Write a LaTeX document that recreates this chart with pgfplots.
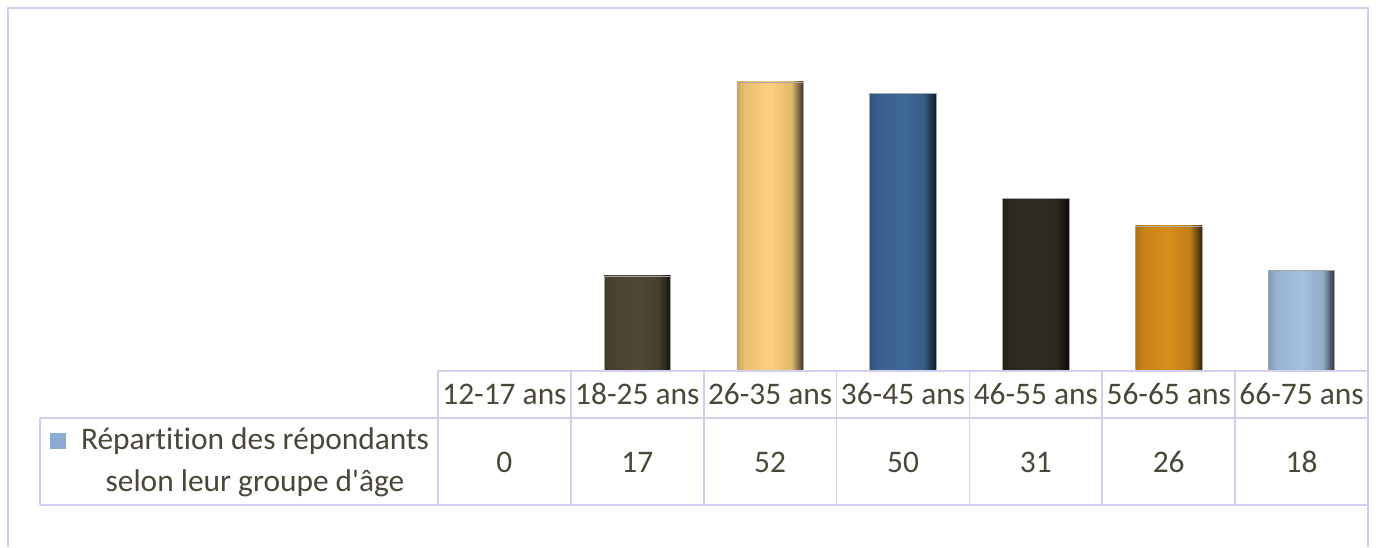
\documentclass[border=0pt]{standalone}
\usepackage{pgfplots}
\usepackage{pgfplotstable}
\pgfplotsset{compat=1.18}
\usepackage{fontspec}
\setmainfont{Carlito}[Ligatures={NoCommon}]

\definecolor{txt}{RGB}{74,70,56}
\definecolor{frame}{RGB}{210,206,240}
\definecolor{legsq}{RGB}{141,171,210}
\definecolor{c1}{RGB}{80,72,52}
\definecolor{c2}{RGB}{254,208,125}
\definecolor{c3}{RGB}{62,104,152}
\definecolor{c4}{RGB}{48,44,34}
\definecolor{c5}{RGB}{216,142,26}
\definecolor{c6}{RGB}{163,194,226}

% bevel-ish horizontal shading, path maps to 25bp..75bp
\newcommand\bevel[2]{%
  \pgfdeclarehorizontalshading{#1}{100bp}{%
    color(0bp)=(#2!80!black); color(25bp)=(#2!80!black);
    color(31bp)=(#2!92!black); color(50bp)=(#2);
    color(66bp)=(#2!88!black); color(75bp)=(#2!25!black);
    color(100bp)=(#2!25!black)}}
\bevel{bev1}{c1}\bevel{bev2}{c2}\bevel{bev3}{c3}
\bevel{bev4}{c4}\bevel{bev5}{c5}\bevel{bev6}{c6}

\pgfplotstableread[col sep=comma]{
x,label,v
0,12-17 ans,0
1,18-25 ans,17
2,26-35 ans,52
3,36-45 ans,50
4,46-55 ans,31
5,56-65 ans,26
6,66-75 ans,18
}\data

\pgfplotsset{bevbar/.style={ybar, bar shift=0pt, bar width=0.5,
    draw=black!35, line width=0.3pt, shading=#1}}

\begin{document}
\begin{tikzpicture}[font=\fontsize{15.7}{21}\selectfont]
\useasboundingbox (0,0) rectangle (688pt,-273.5pt);
\begin{axis}[at={(219pt,-185pt)}, anchor=south west,
    scale only axis, width=465pt, height=166.2pt,
    xmin=-0.5, xmax=6.5, ymin=0, ymax=60,
    hide axis, clip=false]
\addplot[bevbar=bev1, restrict expr to domain={\coordindex}{1:1}] table[x=x,y=v]{\data};
\addplot[bevbar=bev2, restrict expr to domain={\coordindex}{2:2}] table[x=x,y=v]{\data};
\addplot[bevbar=bev3, restrict expr to domain={\coordindex}{3:3}] table[x=x,y=v]{\data};
\addplot[bevbar=bev4, restrict expr to domain={\coordindex}{4:4}] table[x=x,y=v]{\data};
\addplot[bevbar=bev5, restrict expr to domain={\coordindex}{5:5}] table[x=x,y=v]{\data};
\addplot[bevbar=bev6, restrict expr to domain={\coordindex}{6:6}] table[x=x,y=v]{\data};
% data table rows
\addplot[draw=none, mark=none, nodes near coords, point meta=explicit symbolic,
    every node near coord/.append style={anchor=center, yshift=-12pt, text=txt,
      font=\fontsize{15.7}{21}\selectfont}]
    table[x=x, y expr=0, meta=label]{\data};
\addplot[draw=none, mark=none, nodes near coords, point meta=explicit symbolic,
    every node near coord/.append style={anchor=center, yshift=-46pt, text=txt,
      font=\fontsize{15.7}{21}\selectfont}]
    table[x=x, y expr=0, meta=v]{\data};
\end{axis}
% outer frame
\draw[frame, line width=0.8pt] (4pt,-273.5pt) -- (4pt,-4pt) -- (684pt,-4pt) -- (684pt,-273.5pt);
% table grid
\begin{scope}[frame, line width=0.9pt]
\draw (219pt,-185.5pt) -- (684pt,-185.5pt);
\draw (20pt,-209pt) -- (684pt,-209pt);
\draw (20pt,-252.5pt) -- (684pt,-252.5pt);
\draw (20pt,-209pt) -- (20pt,-252.5pt);
\foreach \k in {0,...,7}
  \draw ({219pt+\k*66.43pt},-185.5pt) -- ({219pt+\k*66.43pt},-252.5pt);
\end{scope}
% legend key
\fill[legsq] (25pt,-216.5pt) rectangle (33pt,-224.5pt);
\node[text=txt, align=center, anchor=center] at (127.5pt,-231pt)
  {Répartition des répondants\\selon leur groupe d\textquotesingle âge};
\end{tikzpicture}
\end{document}
